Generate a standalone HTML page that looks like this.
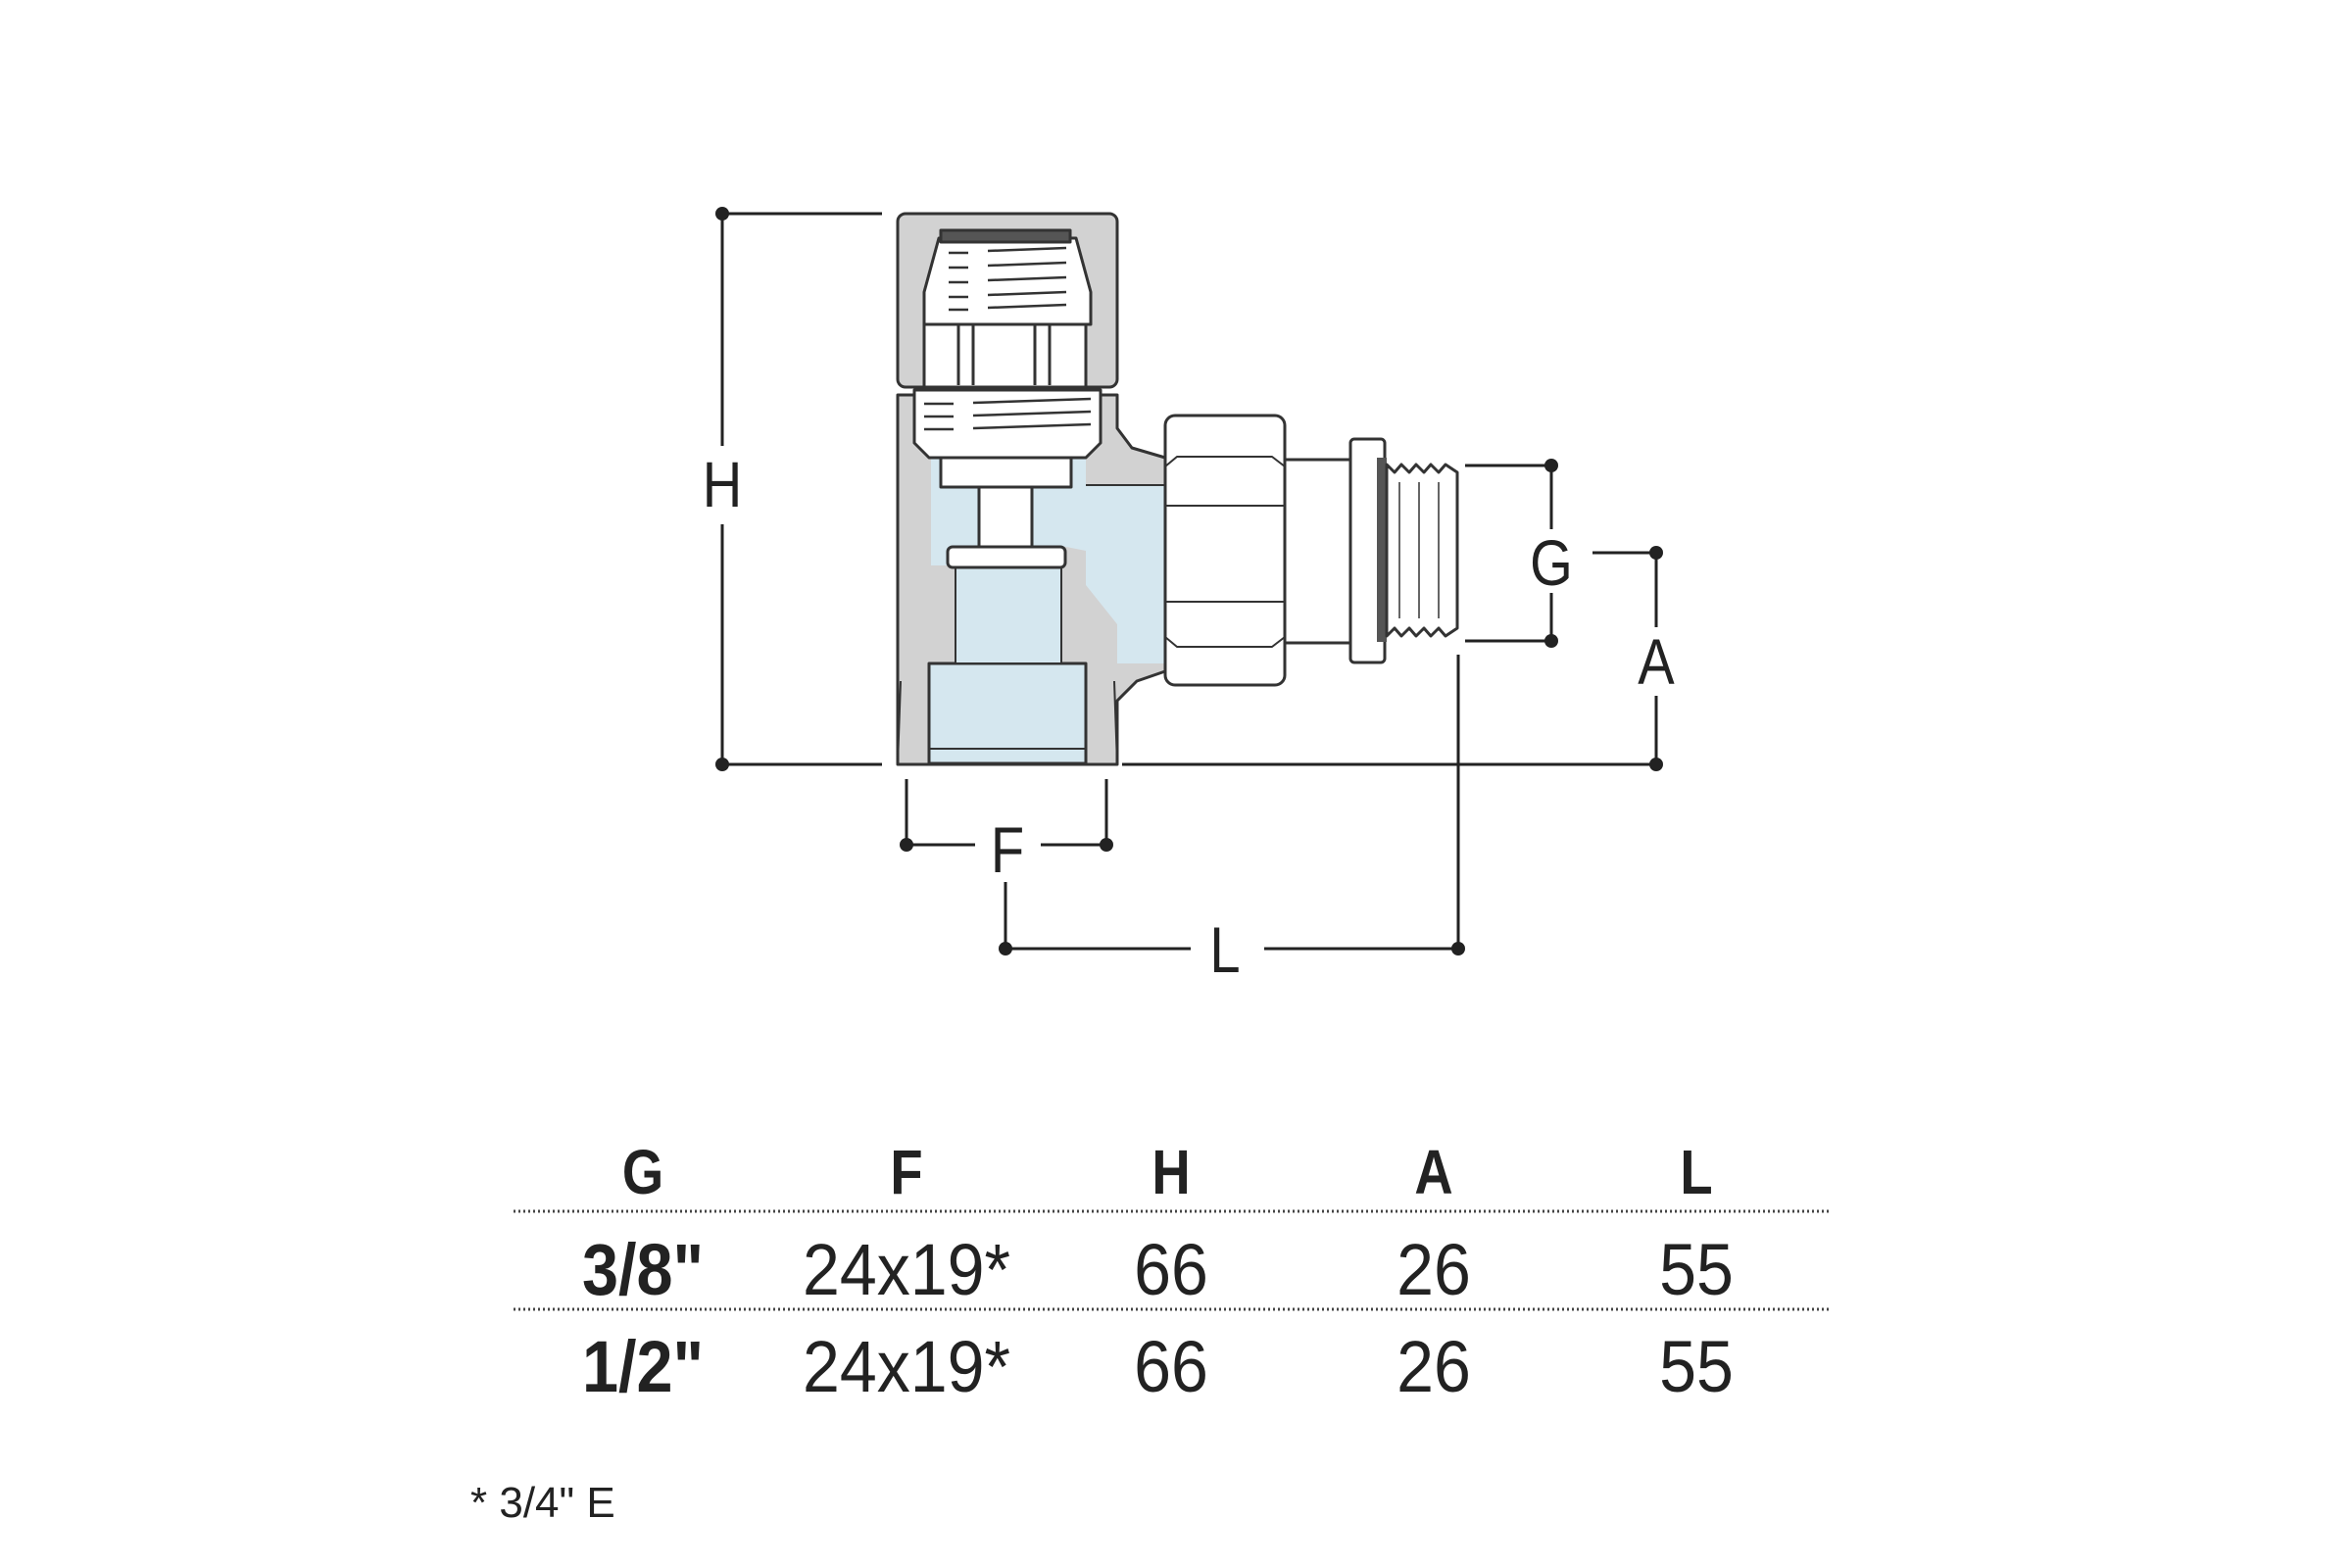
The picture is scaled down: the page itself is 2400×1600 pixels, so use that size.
<!DOCTYPE html>
<html><head><meta charset="utf-8"><style>
html,body{margin:0;padding:0;background:#fff;}
svg{display:block;}
text{font-family:"Liberation Sans Narrow","Liberation Sans",sans-serif;fill:#222;}
</style></head><body>
<svg width="2400" height="1600" viewBox="0 0 2400 1600" xmlns="http://www.w3.org/2000/svg">
<g stroke="#222" stroke-width="3" fill="none">
<line x1="737" y1="218" x2="900" y2="218"/>
<line x1="737" y1="218" x2="737" y2="455"/>
<line x1="737" y1="535" x2="737" y2="780"/>
<line x1="737" y1="780" x2="900" y2="780"/>
<line x1="1145" y1="780" x2="1690" y2="780"/>
<line x1="1690" y1="564" x2="1690" y2="640"/>
<line x1="1690" y1="710" x2="1690" y2="780"/>
<line x1="1625" y1="564" x2="1690" y2="564"/>
<line x1="1495" y1="475" x2="1583" y2="475"/>
<line x1="1495" y1="654" x2="1583" y2="654"/>
<line x1="1583" y1="475" x2="1583" y2="540"/>
<line x1="1583" y1="605" x2="1583" y2="654"/>
<line x1="1488" y1="668" x2="1488" y2="968"/>
<line x1="1026" y1="900" x2="1026" y2="968"/>
<line x1="1026" y1="968" x2="1215" y2="968"/>
<line x1="1290" y1="968" x2="1488" y2="968"/>
<line x1="925" y1="795" x2="925" y2="862"/>
<line x1="1129" y1="795" x2="1129" y2="862"/>
<line x1="925" y1="862" x2="995" y2="862"/>
<line x1="1062" y1="862" x2="1129" y2="862"/>
</g>
<g fill="#222">
<circle cx="737" cy="218" r="7"/><circle cx="737" cy="780" r="7"/>
<circle cx="1690" cy="564" r="7"/><circle cx="1690" cy="780" r="7"/>
<circle cx="1583" cy="475" r="7"/><circle cx="1583" cy="654" r="7"/>
<circle cx="1026" cy="968" r="7"/><circle cx="1488" cy="968" r="7"/>
<circle cx="925" cy="862" r="7"/><circle cx="1129" cy="862" r="7"/>
</g>
<g font-size="66" text-anchor="middle">
<text transform="translate(737,517) scale(0.85,1)">H</text>
<text transform="translate(1583,597) scale(0.85,1)">G</text>
<text transform="translate(1690,698) scale(0.85,1)">A</text>
<text transform="translate(1028,890) scale(0.85,1)">F</text>
<text transform="translate(1250,992) scale(0.85,1)">L</text>
</g>

<g stroke="#333" stroke-width="3" stroke-linejoin="round">
<rect x="916" y="218" width="224" height="177" rx="8" fill="#d2d2d2"/>
<path d="M916 403 H1140 V437 L1155 457 L1189 467 V685 L1160 695 L1140 715 V780 H916 Z" fill="#d2d2d2"/>
<path d="M950 467 H1108 V495 H1189 V677 H1140 V637 L1108 597 V562 L1083 557 V677 H975 V577 H950 Z" fill="#d5e7ef" stroke="none"/>
<rect x="948" y="677" width="160" height="102" fill="#d5e7ef"/>
<rect x="975" y="579" width="108" height="98" fill="#d5e7ef" stroke-width="2"/>
<line x1="1108" y1="495" x2="1189" y2="495" stroke-width="2"/>
<path d="M958 243 H1098 L1113 298 V331 H943 V298 Z" fill="#fff"/>
<rect x="960" y="235" width="132" height="12" fill="#555"/>
<g stroke-width="2.5"><line x1="968" y1="258" x2="988" y2="258"/><line x1="1008" y1="256" x2="1088" y2="253"/>
<line x1="968" y1="273" x2="988" y2="273"/><line x1="1008" y1="271" x2="1088" y2="268"/>
<line x1="968" y1="288" x2="988" y2="288"/><line x1="1008" y1="286" x2="1088" y2="283"/>
<line x1="968" y1="303" x2="988" y2="303"/><line x1="1008" y1="301" x2="1088" y2="298"/>
<line x1="968" y1="316" x2="988" y2="316"/><line x1="1008" y1="314" x2="1088" y2="311"/></g>
<rect x="943" y="331" width="165" height="64" fill="#fff"/>
<line x1="978" y1="331" x2="978" y2="393"/><line x1="993" y1="331" x2="993" y2="393"/>
<line x1="1056" y1="331" x2="1056" y2="393"/><line x1="1071" y1="331" x2="1071" y2="393"/>
<path d="M933 398 H1123 V452 L1108 467 H948 L933 452 Z" fill="#fff"/>
<g stroke-width="2.5"><line x1="943" y1="412" x2="973" y2="412"/><line x1="993" y1="411" x2="1113" y2="407"/>
<line x1="943" y1="425" x2="973" y2="425"/><line x1="993" y1="424" x2="1113" y2="420"/>
<line x1="943" y1="438" x2="973" y2="438"/><line x1="993" y1="437" x2="1113" y2="433"/></g>
<rect x="960" y="467" width="133" height="30" fill="#fff"/>
<rect x="999" y="497" width="54" height="61" fill="#fff"/>
<rect x="967" y="558" width="120" height="21" rx="5" fill="#fff"/>
<path d="M916 780 L919 695 M1140 780 L1137 695" stroke-width="2"/>
<line x1="948" y1="764" x2="1108" y2="764" stroke-width="2"/>
<rect x="1189" y="424" width="122" height="275" rx="10" fill="#fff"/>
<path d="M1189 476 L1201 466 H1298 L1311 476 M1189 516 H1311 M1189 614 H1311 M1189 650 L1201 660 H1298 L1311 650" fill="none" stroke-width="2"/>
<rect x="1311" y="469" width="67" height="187" fill="#fff"/>
<rect x="1378" y="448" width="35" height="228" rx="4" fill="#fff"/>
<rect x="1405" y="467" width="10" height="188" fill="#555" stroke="none"/>
<path d="M1415 474 L1423 482 L1430 474 L1438 482 L1445 474 L1453 482 L1460 474 L1468 482 L1475 474 L1487 482 V641 L1475 649 L1468 641 L1460 649 L1453 641 L1445 649 L1438 641 L1430 649 L1423 641 L1415 649 Z" fill="#fff"/>
<path d="M1428 492 V631 M1448 492 V631 M1468 492 V631" stroke-width="1.5"/>
</g>

<g text-anchor="middle">
<g font-size="64" font-weight="bold">
<text transform="translate(656,1218) scale(0.85,1)">G</text>
<text transform="translate(925,1218) scale(0.85,1)">F</text>
<text transform="translate(1195,1218) scale(0.85,1)">H</text>
<text transform="translate(1463,1218) scale(0.85,1)">A</text>
<text transform="translate(1731,1218) scale(0.85,1)">L</text>
</g>
<line x1="524" y1="1236" x2="1869" y2="1236" stroke="#444" stroke-width="3" stroke-dasharray="2 3"/>
<line x1="524" y1="1336" x2="1869" y2="1336" stroke="#444" stroke-width="3" stroke-dasharray="2 3"/>
<g font-size="74">
<text transform="translate(656,1321) scale(0.9,1)" font-weight="bold">3/8"</text>
<text transform="translate(925,1321) scale(0.92,1)">24x19*</text>
<text transform="translate(1195,1321) scale(0.92,1)">66</text>
<text transform="translate(1463,1321) scale(0.92,1)">26</text>
<text transform="translate(1731,1321) scale(0.92,1)">55</text>
<text transform="translate(656,1420) scale(0.9,1)" font-weight="bold">1/2"</text>
<text transform="translate(925,1420) scale(0.92,1)">24x19*</text>
<text transform="translate(1195,1420) scale(0.92,1)">66</text>
<text transform="translate(1463,1420) scale(0.92,1)">26</text>
<text transform="translate(1731,1420) scale(0.92,1)">55</text>
</g>
</g>
<text transform="translate(480,1548)" font-size="44">* 3/4" E</text>
</svg>
</body></html>
